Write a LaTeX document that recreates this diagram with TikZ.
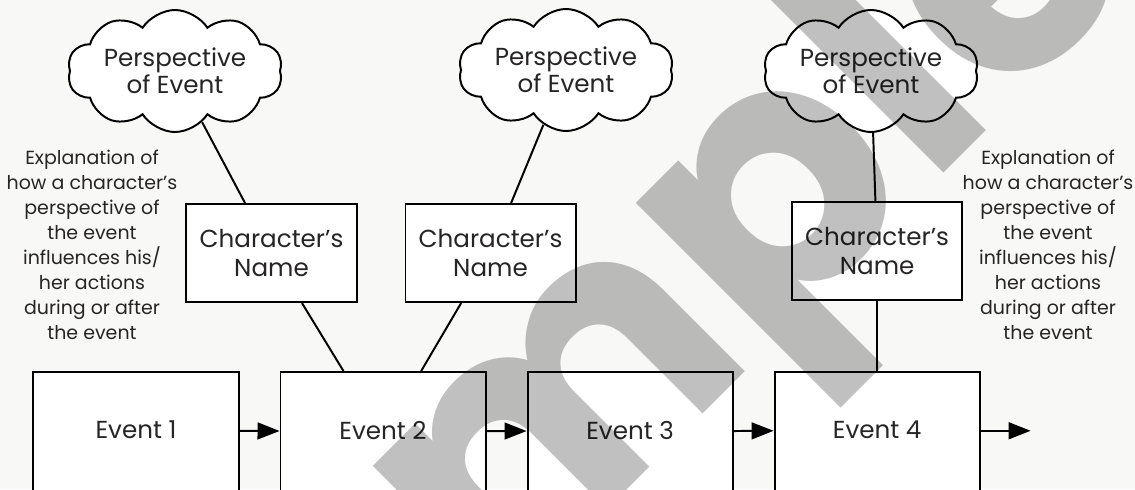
\documentclass[tikz,border=0pt]{standalone}
\usepackage{fontspec}
\setmainfont{Poppins}
\newfontfamily\stampfont{Poppins}
\usepackage{tikz}
\usetikzlibrary{positioning,shapes.symbols,arrows.meta}
\definecolor{paper}{RGB}{248,248,246}
\definecolor{ink}{RGB}{38,36,36}
\definecolor{stamp}{RGB}{192,192,192}

\begin{document}
\begin{tikzpicture}[x=0.025cm, y=0.025cm, node distance=1cm, line width=1.4pt,
    >={Triangle[length=5.5mm,width=4.2mm]},
    event/.style={draw, fill=white, minimum width=5.125cm, minimum height=3.2cm, text depth=8.5pt, text=ink, font=\fontsize{17.5}{20}\selectfont},
    charbox/.style={draw, fill=white, minimum width=4.25cm, minimum height=2.45cm, align=center, text=ink, font=\fontsize{17.5}{20.5}\selectfont},
    thought/.style={cloud, cloud puffs=10, cloud puff arc=115, cloud ignores aspect, draw, fill=white, minimum width=5.375cm, minimum height=3.05cm, inner sep=0pt, align=center, text=ink, font=\fontsize{17.5}{19.5}\selectfont},
    explain/.style={align=center, text=ink, font=\fontsize{13.5}{17.8}\selectfont}]
    \fill[paper] (0,0) rectangle (1135,-489);
    \useasboundingbox (0,0) rectangle (1135,-489);

    \node (e1) [event] at (136,-436) {Event 1};
    \node (e2) [event, right=of e1] {Event 2};
    \node (e3) [event, right=of e2] {Event 3};
    \node (e4) [event, right=of e3] {Event 4};
    \coordinate [right=1.25cm of e4.mid east, yshift=3pt] (tail);

    \node (n1) [charbox] at (271.5,-253) {Character’s\\Name};
    \node (n2) [charbox] at (490.5,-253) {Character’s\\Name};
    \node (n3) [charbox, above=1.75cm of e4] {Character’s\\Name};

    \node (c1) [thought] at (175,-71) {Perspective\\of Event};
    \node (c2) [thought] at (566,-70) {Perspective\\of Event};
    \node (c3) [thought] at (871,-71) {Perspective\\of Event};

    \node (x1) [explain] at (92,-245) {Explanation of\\how a character’s\\perspective of\\the event\\influences his/\\her actions\\during or after\\the event};
    \node (x2) [explain] at (1048,-245) {Explanation of\\how a character’s\\perspective of\\the event\\influences his/\\her actions\\during or after\\the event};

    \draw[->] ([yshift=3pt]e1.mid east) -- ([yshift=3pt]e2.mid west);
    \draw[->] ([yshift=3pt]e2.mid east) -- ([yshift=3pt]e3.mid west);
    \draw[->] ([yshift=3pt]e3.mid east) -- ([yshift=3pt]e4.mid west);
    \draw[->] ([yshift=3pt]e4.mid east) -- (tail);

    \draw (c1) -- (n1);
    \draw (n1) -- (e2);
    \draw (c2) -- (n2);
    \draw (n2) -- (e2);
    \draw (c3) -- (n3);
    \draw (n3) -- (e4);

    \begin{scope}[blend mode=multiply]
        \node (mark) [rotate=45, anchor=base, text=stamp, font=\stampfont\bfseries\fontsize{250}{250}\selectfont] at (665,-452) {Sample};
    \end{scope}
\end{tikzpicture}
\end{document}
